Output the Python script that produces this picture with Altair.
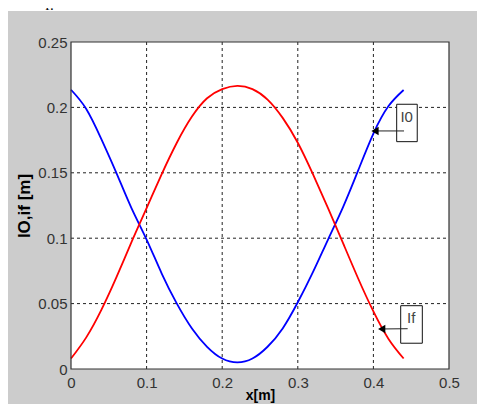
import altair as alt
import pandas as pd

# ---- data ----
x_vals = [0.00, 0.02, 0.04, 0.06, 0.08, 0.10, 0.12, 0.14, 0.16, 0.18, 0.20, 0.22,
          0.24, 0.26, 0.28, 0.30, 0.32, 0.34, 0.36, 0.38, 0.40, 0.42, 0.44]
i0_vals = [0.2135, 0.199, 0.176, 0.150, 0.123, 0.099, 0.073, 0.050, 0.031, 0.017, 0.008, 0.005,
           0.008, 0.017, 0.031, 0.051, 0.074, 0.099, 0.124, 0.152, 0.180, 0.201, 0.2133]
if_vals = [0.008, 0.024, 0.045, 0.070, 0.097, 0.123, 0.149, 0.173, 0.193, 0.207, 0.214, 0.2165,
           0.214, 0.206, 0.192, 0.173, 0.149, 0.123, 0.096, 0.069, 0.044, 0.023, 0.008]
series_names = ["I0", "If"]
series_colors = ["#0000ff", "#ff0000"]

x_ticks = [0, 0.1, 0.2, 0.3, 0.4, 0.5]
y_ticks = [0, 0.05, 0.1, 0.15, 0.2, 0.25]
x_grid = [0.1, 0.2, 0.3, 0.4]
y_grid = [0.05, 0.1, 0.15, 0.2]

# annotation boxes (data coordinates): label, box x1,x2,y1,y2, text pos, arrow from/to
ann_labels = ["I0", "If"]
ann_box_x1 = [0.4308, 0.4361]
ann_box_x2 = [0.4580, 0.4647]
ann_box_y1 = [0.2024, 0.0484]
ann_box_y2 = [0.1738, 0.0197]
ann_text_x = [0.4440, 0.4500]
ann_text_y = [0.1930, 0.0390]
ann_from_x = [0.4405, 0.4453]
ann_from_y = [0.1820, 0.0308]
ann_to_x = [0.4021, 0.4110]
ann_to_y = [0.1820, 0.0306]

W, H = 378, 327
PAD = {"left": 63, "top": 34, "right": 28, "bottom": 35}

lines_df = pd.DataFrame({
    "x": x_vals * 2,
    "y": i0_vals + if_vals,
    "series": [series_names[0]] * len(x_vals) + [series_names[1]] * len(x_vals),
})
ann_df = pd.DataFrame({
    "label": ann_labels, "bx1": ann_box_x1, "bx2": ann_box_x2, "by1": ann_box_y1, "by2": ann_box_y2,
    "tx": ann_text_x, "ty": ann_text_y, "fx": ann_from_x, "fy": ann_from_y,
    "ax": ann_to_x, "ay": ann_to_y,
})
one = pd.DataFrame({"k": [0]})

xs = alt.Scale(domain=[0, 0.5], nice=False, zero=False)
ys = alt.Scale(domain=[0, 0.25], nice=False, zero=False)
NARROW = "Liberation Sans Narrow, Arial Narrow, Liberation Sans, sans-serif"

xaxis = alt.Axis(values=x_ticks, format="~g", title="x[m]", grid=False, ticks=False,
                 domain=False, labelFont=NARROW, labelFontSize=15, labelColor="#333333",
                 labelPadding=6, labelFlush=False, labelOverlap=False,
                 titleFont="Liberation Sans", titleFontSize=14,
                 titleFontWeight="bold", titleColor="black", titleY=19,
                 titleBaseline="top", zindex=2)
yaxis = alt.Axis(values=y_ticks, format="~g", title="IO,if [m]", grid=False, ticks=False,
                 domain=False, labelFont=NARROW, labelFontSize=15, labelColor="#333333",
                 labelPadding=4, labelFlush=False, labelOverlap=False,
                 titleFont="Liberation Sans", titleFontSize=17,
                 titleFontWeight="bold", titleColor="black", titleX=-47,
                 titleBaseline="middle", zindex=2)

bg = alt.Chart(one).mark_rect(fill="#cccccc").encode(
    x=alt.value(-63), x2=alt.value(420), y=alt.value(-31), y2=alt.value(375))
plotbg = alt.Chart(one).mark_rect(fill="white").encode(
    x=alt.value(0), x2=alt.value(W), y=alt.value(0), y2=alt.value(H))

vgrid = alt.Chart(pd.DataFrame({"g": x_grid})).mark_rule(
    color="#222222", strokeDash=[3, 3], strokeWidth=1).encode(
    x=alt.X("g:Q", scale=xs, axis=xaxis), y=alt.value(0), y2=alt.value(H))
hgrid = alt.Chart(pd.DataFrame({"g": y_grid})).mark_rule(
    color="#222222", strokeDash=[3, 3], strokeWidth=1).encode(
    y=alt.Y("g:Q", scale=ys, axis=yaxis), x=alt.value(0), x2=alt.value(W))

curves = alt.Chart(lines_df).mark_line(strokeWidth=1.8, interpolate="natural").encode(
    x=alt.X("x:Q", scale=xs, axis=xaxis),
    y=alt.Y("y:Q", scale=ys, axis=yaxis),
    color=alt.Color("series:N", scale=alt.Scale(domain=series_names, range=series_colors),
                    legend=None),
    detail="series:N",
)

boxes = alt.Chart(ann_df).mark_rect(fill="white", stroke="#111111", strokeWidth=1).encode(
    x=alt.X("bx1:Q", scale=xs), x2="bx2:Q", y=alt.Y("by1:Q", scale=ys), y2="by2:Q")
labels = alt.Chart(ann_df).mark_text(font=NARROW, fontSize=15, color="#444444",
                                     baseline="middle", align="center").encode(
    x=alt.X("tx:Q", scale=xs), y=alt.Y("ty:Q", scale=ys), text="label:N")
arrows = alt.Chart(ann_df).mark_rule(color="#222222", strokeWidth=1).encode(
    x=alt.X("fx:Q", scale=xs), x2="ax:Q", y=alt.Y("fy:Q", scale=ys), y2="ay:Q")
heads = alt.Chart(ann_df).mark_point(shape="triangle-left", filled=True, color="black",
                                     size=70, opacity=1, dx=4).encode(
    x=alt.X("ax:Q", scale=xs), y=alt.Y("ay:Q", scale=ys))

frame = alt.Chart(one).mark_rect(fill=None, stroke="#333333", strokeWidth=1.2).encode(
    x=alt.value(0), x2=alt.value(W), y=alt.value(0), y2=alt.value(H))

top_text = alt.Chart(one).mark_text(font="Liberation Serif", fontSize=22, color="black",
                                    align="left", baseline="alphabetic").encode(
    x=alt.value(-63), y=alt.value(-35), text=alt.value("nd I"))
top_sub = alt.Chart(one).mark_text(font="Liberation Serif", fontSize=15, color="black",
                                   align="left", baseline="alphabetic").encode(
    x=alt.value(-26), y=alt.value(-32), text=alt.value("f."))

chart = alt.layer(bg, plotbg, vgrid, hgrid, curves, boxes, arrows, heads, labels, frame,
                  top_text, top_sub).properties(
    width=W, height=H, autosize=alt.AutoSizeParams(type="none"), padding=PAD,
    background="white",
).configure_view(stroke=None)

chart.save("out.html", embed_options={"renderer": "svg", "actions": False})
